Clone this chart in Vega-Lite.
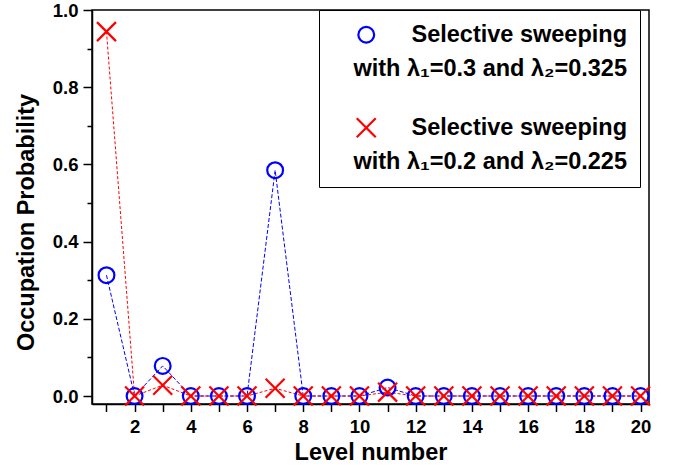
{
  "$schema": "https://vega.github.io/schema/vega-lite/v6.json",
  "width": 557,
  "height": 394,
  "autosize": "none",
  "padding": {"left": 92, "top": 10, "right": 25, "bottom": 66},
  "background": "white",
  "config": {
    "view": {"stroke": "black", "strokeWidth": 1.5},
    "font": "Liberation Sans",
    "style": {"guide-label": {"lineHeight": 34}},
    "axis": {
      "labelFont": "Liberation Sans",
      "labelFontWeight": "bold",
      "labelFontSize": 18.5,
      "labelColor": "black",
      "titleFont": "Liberation Sans",
      "titleFontWeight": "bold",
      "titleFontSize": 23.5,
      "titleColor": "black",
      "domainColor": "black",
      "domainWidth": 1.5,
      "tickColor": "black",
      "tickWidth": 1.5,
      "grid": false
    },
    "legend": {
      "title": null,
      "orient": "none",
      "legendX": 227,
      "legendY": 0,
      "padding": 13,
      "strokeColor": "black",
      "fillColor": "white",
      "symbolSize": 250,
      "symbolStrokeWidth": 2.2,
      "symbolOffset": 22.5,
      "labelOffset": 249,
      "labelAlign": "right",
      "labelFont": "Liberation Sans",
      "labelFontWeight": "bold",
      "labelFontSize": 23.5,
      "labelColor": "black",
      "labelLimit": 1000,
      "labelBaseline": "middle",
      "rowPadding": 32
    }
  },
  "data": {
    "values": [
      {"level": 1, "series": "A", "prob": 0.313},
      {"level": 2, "series": "A", "prob": 0.0},
      {"level": 3, "series": "A", "prob": 0.078},
      {"level": 4, "series": "A", "prob": 0.0},
      {"level": 5, "series": "A", "prob": 0.0},
      {"level": 6, "series": "A", "prob": 0.0},
      {"level": 7, "series": "A", "prob": 0.585},
      {"level": 8, "series": "A", "prob": 0.0},
      {"level": 9, "series": "A", "prob": 0.0},
      {"level": 10, "series": "A", "prob": 0.0},
      {"level": 11, "series": "A", "prob": 0.022},
      {"level": 12, "series": "A", "prob": 0.0},
      {"level": 13, "series": "A", "prob": 0.0},
      {"level": 14, "series": "A", "prob": 0.0},
      {"level": 15, "series": "A", "prob": 0.0},
      {"level": 16, "series": "A", "prob": 0.0},
      {"level": 17, "series": "A", "prob": 0.0},
      {"level": 18, "series": "A", "prob": 0.0},
      {"level": 19, "series": "A", "prob": 0.0},
      {"level": 20, "series": "A", "prob": 0.0},
      {"level": 1, "series": "B", "prob": 0.944},
      {"level": 2, "series": "B", "prob": 0.0},
      {"level": 3, "series": "B", "prob": 0.028},
      {"level": 4, "series": "B", "prob": 0.0},
      {"level": 5, "series": "B", "prob": 0.0},
      {"level": 6, "series": "B", "prob": 0.0},
      {"level": 7, "series": "B", "prob": 0.02},
      {"level": 8, "series": "B", "prob": 0.0},
      {"level": 9, "series": "B", "prob": 0.0},
      {"level": 10, "series": "B", "prob": 0.0},
      {"level": 11, "series": "B", "prob": 0.01},
      {"level": 12, "series": "B", "prob": 0.0},
      {"level": 13, "series": "B", "prob": 0.0},
      {"level": 14, "series": "B", "prob": 0.0},
      {"level": 15, "series": "B", "prob": 0.0},
      {"level": 16, "series": "B", "prob": 0.0},
      {"level": 17, "series": "B", "prob": 0.0},
      {"level": 18, "series": "B", "prob": 0.0},
      {"level": 19, "series": "B", "prob": 0.0},
      {"level": 20, "series": "B", "prob": 0.0}
    ]
  },
  "encoding": {
    "x": {
      "field": "level",
      "type": "quantitative",
      "scale": {"domain": [0.485, 20.3], "nice": false, "zero": false},
      "axis": {
        "title": "Level number",
        "values": [1,2,3,4,5,6,7,8,9,10,11,12,13,14,15,16,17,18,19,20],
        "labelExpr": "datum.value % 2 === 0 ? datum.label : ''",
        "tickSize": 7.5,
        "labelPadding": 6,
        "titlePadding": 4
      }
    },
    "y": {
      "field": "prob",
      "type": "quantitative",
      "scale": {"domain": [-0.0207, 1.0], "nice": false, "zero": false}
    }
  },
  "layer": [
    {
      "transform": [{"filter": "datum.series === 'A'"}],
      "mark": {"type": "line", "color": "#0000ff", "strokeWidth": 1, "strokeDash": [4, 2]},
      "encoding": {
        "y": {
          "field": "prob",
          "type": "quantitative",
          "axis": {
            "orient": "left",
            "title": "Occupation Probability",
            "values": [0, 0.2, 0.4, 0.6, 0.8, 1.0],
            "format": ".1f",
            "tickSize": 9,
            "labelPadding": 5,
            "titlePadding": 14,
            "titleY": 212
          }
        }
      }
    },
    {
      "transform": [{"filter": "datum.series === 'B'"}],
      "mark": {"type": "line", "color": "#ff0000", "strokeWidth": 1, "strokeDash": [3, 2]},
      "encoding": {
        "y": {
          "field": "prob",
          "type": "quantitative",
          "axis": {
            "orient": "left",
            "title": null,
            "values": [0.1, 0.3, 0.5, 0.7, 0.9],
            "labels": false,
            "domain": false,
            "tickSize": 5
          }
        }
      }
    },
    {
      "mark": {"type": "point", "filled": false, "strokeWidth": 2.2, "size": 250, "opacity": 1},
      "encoding": {
        "y": {"field": "prob", "type": "quantitative", "axis": null},
        "color": {
          "field": "series",
          "type": "nominal",
          "scale": {"domain": ["A", "B"], "range": ["#0000ff", "#ff0000"]},
          "legend": {
            "labelExpr": "datum.value === 'A' ? ['Selective sweeping', 'with λ₁=0.3 and λ₂=0.325'] : ['Selective sweeping', 'with λ₁=0.2 and λ₂=0.225']"
          }
        },
        "shape": {
          "field": "series",
          "type": "nominal",
          "scale": {"domain": ["A", "B"], "range": ["circle", "M-1.2,-1.2L1.2,1.2M-1.2,1.2L1.2,-1.2"]},
          "legend": {
            "labelExpr": "datum.value === 'A' ? ['Selective sweeping', 'with λ₁=0.3 and λ₂=0.325'] : ['Selective sweeping', 'with λ₁=0.2 and λ₂=0.225']"
          }
        }
      }
    }
  ],
  "resolve": {"axis": {"y": "independent"}}
}
